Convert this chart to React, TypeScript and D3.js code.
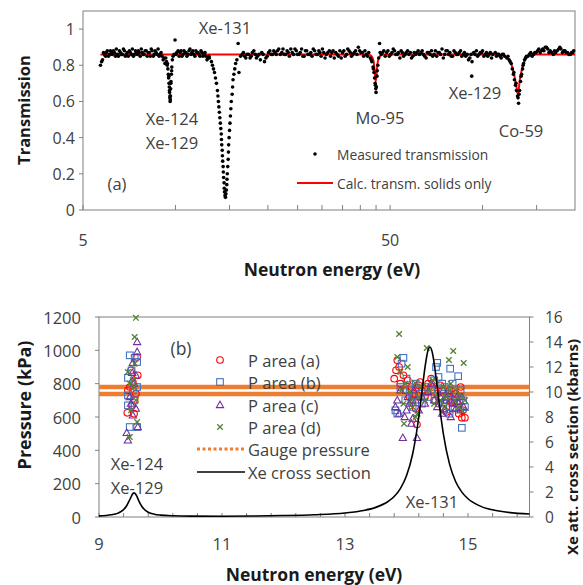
import React, { useEffect } from 'react';
import * as d3 from 'd3';

// ---------- Panel (a) data ----------
const topMajorTicks = [5, 50];
const topMinorTicks = [10, 15, 20, 25, 30, 35, 40, 45, 100, 150];
const transTicks = [0, 0.2, 0.4, 0.6, 0.8, 1];

const measSeg1: [number, number][] = [
  [5.70,0.80],[5.79,0.83],[5.87,0.86],[5.96,0.87],[6.05,0.85],[6.14,0.88],[6.23,0.86],[6.33,0.87],[6.42,0.89],[6.52,0.85],
  [6.62,0.87],[6.72,0.86],[6.82,0.88],[6.92,0.86],[7.02,0.85],[7.13,0.87],[7.24,0.89],[7.35,0.86],[7.46,0.87],[7.57,0.88],
  [7.68,0.85],[7.80,0.87],[7.91,0.86],[8.03,0.88],[8.15,0.87],[8.28,0.85],[8.40,0.88],[8.53,0.86],[8.65,0.87],[8.78,0.89],
  [8.91,0.86],[9.05,0.85],[9.18,0.84]
];
const measSeg1b: [number, number][] = [
  [5.75,0.82],[5.83,0.87],[5.92,0.85],[6.00,0.88],[6.10,0.86],[6.19,0.87],[6.28,0.88],[6.38,0.85],[6.47,0.86],[6.57,0.88],
  [6.67,0.86],[6.77,0.89],[6.87,0.85],[6.97,0.87],[7.08,0.88],[7.19,0.86],[7.30,0.85],[7.41,0.88],[7.52,0.86],[7.63,0.87],
  [7.74,0.89],[7.86,0.86],[7.97,0.88],[8.09,0.85],[8.22,0.87],[8.34,0.89],[8.47,0.85],[8.59,0.88],[8.72,0.86],[8.85,0.85],
  [8.98,0.87],[9.12,0.83],[9.24,0.81]
];
const measDipXe124: [number, number][] = [
  [9.30,0.84],[9.35,0.82],[9.40,0.80],[9.42,0.81],[9.45,0.78],[9.48,0.75],[9.50,0.73],[9.52,0.74],[9.53,0.70],[9.55,0.68],
  [9.56,0.66],[9.57,0.65],[9.59,0.62],[9.60,0.63],[9.61,0.60],[9.62,0.61],[9.63,0.63],[9.65,0.67],[9.66,0.70],[9.67,0.71],
  [9.70,0.75],[9.72,0.77],[9.73,0.79],[9.77,0.83],[9.82,0.85],[9.90,0.86],[9.97,0.94]
];
const measSeg2: [number, number][] = [
  [10.05,0.86],[10.2,0.88],[10.35,0.87],[10.5,0.85],[10.66,0.88],[10.82,0.87],[10.98,0.86],[11.15,0.89],[11.32,0.87],[11.49,0.86],
  [11.66,0.88],[11.84,0.87],[12.02,0.85],[12.2,0.87],[12.38,0.86],[12.57,0.85],[12.76,0.84]
];
const measSeg2b: [number, number][] = [
  [10.1,0.87],[10.28,0.85],[10.43,0.88],[10.58,0.86],[10.74,0.87],[10.9,0.85],[11.07,0.88],[11.24,0.86],[11.4,0.88],[11.57,0.85],
  [11.75,0.87],[11.93,0.86],[12.11,0.88],[12.29,0.85],[12.48,0.87],[12.67,0.83],[12.85,0.85]
];
const measDipXe131: [number, number][] = [
  [12.9,0.84],[13.1,0.82],[13.2,0.80],[13.3,0.78],[13.4,0.76],[13.5,0.73],[13.6,0.70],[13.7,0.66],[13.75,0.63],[13.8,0.60],
  [13.85,0.57],[13.9,0.54],[13.95,0.51],[14.0,0.48],[14.05,0.45],[14.1,0.42],[14.12,0.39],[14.15,0.36],[14.2,0.33],[14.22,0.30],
  [14.25,0.27],[14.3,0.24],[14.32,0.21],[14.35,0.18],[14.4,0.15],[14.42,0.12],[14.45,0.10],[14.5,0.08],[14.55,0.07],[14.6,0.09],
  [14.65,0.11],[14.7,0.14],[14.72,0.17],[14.75,0.20],[14.8,0.24],[14.85,0.28],[14.88,0.32],[14.9,0.36],[14.95,0.40],[15.0,0.44],
  [15.05,0.48],[15.1,0.52],[15.15,0.56],[15.2,0.60],[15.3,0.64],[15.35,0.68],[15.4,0.72],[15.5,0.75],[15.6,0.78],[15.7,0.81],
  [15.85,0.83],[16.0,0.92],[16.1,0.76],[16.3,0.85],[16.5,0.86]
];
const measSeg3: [number, number][] = [
  [16.8,0.85],[17.1,0.86],[17.5,0.84],[17.8,0.87],[18.2,0.86],[18.5,0.85],[18.9,0.83],[19.3,0.86],[19.7,0.84],[20.1,0.87],
  [20.5,0.86],[20.9,0.88],[21.3,0.86],[21.7,0.89],[22.2,0.87],[22.6,0.86],[23.1,0.88],[23.5,0.85],[24.0,0.87],[24.5,0.89],
  [25.0,0.86],[25.5,0.87],[26.0,0.85],[26.5,0.88],[27.0,0.86],[27.6,0.87],[28.1,0.89],[28.7,0.86],[29.3,0.88],[29.8,0.85],
  [30.4,0.87],[31.0,0.86],[31.7,0.88],[32.3,0.87],[32.9,0.84],[33.6,0.86],[34.3,0.88],[35.0,0.87],[35.7,0.85],[36.4,0.89],
  [37.1,0.87],[37.8,0.86],[38.6,0.88],[39.4,0.90],[40.2,0.87],[41.0,0.85],[41.8,0.86],[42.6,0.87]
];
const measSeg3b: [number, number][] = [
  [16.65,0.87],[16.95,0.84],[17.3,0.86],[17.65,0.85],[18.0,0.88],[18.35,0.84],[18.7,0.86],[19.1,0.87],[19.5,0.82],[19.9,0.85],
  [20.3,0.88],[20.7,0.86],[21.1,0.87],[21.5,0.88],[21.95,0.86],[22.4,0.89],[22.85,0.86],[23.3,0.87],[23.75,0.89],[24.25,0.86],
  [24.75,0.88],[25.25,0.86],[25.75,0.89],[26.25,0.85],[26.75,0.88],[27.3,0.86],[27.85,0.85],[28.4,0.88],[29.0,0.86],[29.55,0.87],
  [30.1,0.89],[30.7,0.84],[31.35,0.87],[32.0,0.85],[32.6,0.88],[33.25,0.87],[33.95,0.85],[34.65,0.84],[35.35,0.88],[36.05,0.86],
  [36.75,0.88],[37.45,0.85],[38.2,0.87],[39.0,0.86],[39.8,0.88],[40.6,0.87],[41.4,0.88],[42.2,0.85]
];
const measDipMo95: [number, number][] = [
  [43.1,0.84],[43.4,0.83],[43.6,0.82],[44.0,0.79],[44.1,0.78],[44.3,0.76],[44.5,0.73],[44.7,0.70],[44.8,0.69],[44.9,0.67],
  [45.0,0.65],[45.1,0.68],[45.3,0.74],[45.4,0.77],[45.6,0.80],[45.9,0.84],[46.2,0.92],[46.4,0.87]
];
const measSeg4: [number, number][] = [
  [46.8,0.86],[47.7,0.88],[48.7,0.87],[49.7,0.85],[50.7,0.87],[51.7,0.88],[52.7,0.86],[53.8,0.84],[54.8,0.87],[55.9,0.86],
  [57.0,0.88],[58.2,0.87],[59.3,0.85],[60.5,0.86],[61.7,0.88],[63.0,0.87],[64.2,0.86],[65.5,0.84],[66.8,0.87],[68.2,0.88],
  [69.5,0.86],[70.9,0.85],[72.3,0.87],[73.8,0.89],[75.3,0.86],[76.8,0.88],[78.3,0.87],[79.9,0.85],[81.5,0.87],[83.1,0.86],
  [84.8,0.88],[86.5,0.86],[88.2,0.85],[90.0,0.83],[91.8,0.86],[92.4,0.82],[92.2,0.74],[93.6,0.87],[95.5,0.88],[97.4,0.86],
  [99.3,0.87],[101,0.85],[103,0.87],[105,0.86],[107,0.84],[110,0.87],[112,0.86],[114,0.85],[116,0.86],[118,0.85]
];
const measSeg4b: [number, number][] = [
  [47.2,0.87],[48.2,0.85],[49.2,0.88],[50.2,0.86],[51.2,0.89],[52.2,0.86],[53.2,0.87],[54.3,0.88],[55.3,0.85],[56.4,0.87],
  [57.6,0.86],[58.7,0.84],[59.9,0.87],[61.1,0.87],[62.3,0.86],[63.6,0.88],[64.8,0.85],[66.1,0.87],[67.5,0.86],[68.8,0.85],
  [70.2,0.88],[71.6,0.87],[73.0,0.86],[74.5,0.84],[76.0,0.88],[77.5,0.86],[79.1,0.85],[80.7,0.88],[82.3,0.86],[84.0,0.87],
  [85.6,0.85],[87.3,0.87],[89.1,0.86],[90.9,0.84],[94.5,0.86],[96.4,0.85],[98.3,0.87],[100,0.88],[102,0.86],[104,0.85],
  [106,0.87],[108,0.86],[111,0.85],[113,0.86],[115,0.84],[117,0.86]
];
const measDipCo59: [number, number][] = [
  [120,0.84],[121,0.85],[122,0.83],[123,0.82],[124,0.81],[125,0.78],[126,0.75],[126.5,0.76],[127,0.72],[128,0.69],
  [128.5,0.70],[129,0.66],[130,0.63],[130.5,0.62],[131,0.59],[131.5,0.64],[132,0.66],[133,0.71],[133.5,0.74],[134,0.75],
  [135,0.78],[135.5,0.80],[136,0.81],[137,0.83],[138,0.84],[139,0.85]
];
const measSeg5: [number, number][] = [
  [142,0.86],[145,0.85],[148,0.87],[151,0.88],[154,0.87],[157,0.89],[160,0.90],[163,0.89],[166,0.88],[170,0.86],
  [173,0.87],[177,0.89],[180,0.89],[184,0.88],[187,0.87],[191,0.86],[195,0.87],[198,0.88]
];
const measSeg5b: [number, number][] = [
  [140.5,0.85],[143.5,0.87],[146.5,0.86],[149.5,0.87],[152.5,0.89],[155.5,0.88],[158.5,0.88],[161.5,0.90],[164.5,0.87],[168,0.87],
  [171.5,0.88],[175,0.88],[178.5,0.90],[182,0.87],[185.5,0.88],[189,0.87],[193,0.86],[196.5,0.87]
];

const calcSolids: [number, number][] = [
  [5.7,0.86],[42.5,0.86],[43.5,0.85],[44.2,0.82],[44.6,0.76],[44.9,0.71],[45.2,0.76],[45.6,0.82],[46.3,0.85],[47.5,0.86],
  [112,0.86],[118,0.85],[122,0.83],[125,0.79],[127,0.74],[129,0.68],[130,0.645],[131,0.66],[132,0.71],[134,0.77],
  [136,0.81],[139,0.84],[143,0.855],[150,0.86],[200,0.86]
];

// ---------- Panel (b) data ----------
const botXLabels = [9, 11, 13, 15];
const pressTicks = [0, 200, 400, 600, 800, 1000, 1200];
const xsTicks = [0, 2, 4, 6, 8, 10, 12, 14, 16];
const gaugeLevels = [780, 738];
const legendLabelsB = ['P area (a)', 'P area (b)', 'P area (c)', 'P area (d)', 'Gauge pressure', 'Xe cross section'];

const pAreaA: [number, number][] = [
  [9.47,760],[9.62,960],[9.63,850],[9.46,625],[9.5,780],[9.58,700],[9.54,670],[9.55,810],[9.6,740],[9.52,880],[9.57,620],
  [13.85,940],[13.83,880],[13.8,830],[13.9,800],[13.88,900],[13.95,850],[13.98,760],[14.02,820],[14.05,720],[14.08,780],
  [14.1,700],[14.12,740],[14.15,650],[14.17,555],[14.2,790],[14.22,810],[14.25,760],[14.3,720],[14.35,800],[14.4,830],
  [14.42,780],[14.45,700],[14.5,740],[14.52,680],[14.55,790],[14.58,760],[14.6,650],[14.63,700],[14.65,630],[14.68,720],
  [14.7,760],[14.72,690],[14.75,650],[14.78,700],[14.8,740],[14.83,680],[14.85,620],[14.88,780],[14.9,595],[14.95,595],[14.92,640]
];
const pAreaB: [number, number][] = [
  [9.5,970],[9.58,955],[9.62,930],[9.47,835],[9.47,670],[9.5,540],[9.62,540],[9.47,730],[9.62,780],[9.55,760],[9.57,700],[9.53,880],
  [13.82,640],[13.85,620],[13.95,955],[13.92,920],[13.9,780],[13.98,700],[14.0,830],[14.05,760],[14.08,690],[14.1,660],
  [14.12,730],[14.15,800],[14.2,740],[14.25,680],[14.3,780],[14.35,720],[14.4,760],[14.45,820],[14.5,925],[14.48,900],
  [14.52,840],[14.55,720],[14.6,680],[14.62,780],[14.65,700],[14.68,740],[14.71,890],[14.75,800],[14.78,660],[14.8,720],
  [14.84,845],[14.86,700],[14.88,760],[14.9,535],[14.92,700],[14.95,660],[14.7,620],[14.58,800]
];
const pAreaC: [number, number][] = [
  [9.62,1050],[9.62,990],[9.55,925],[9.54,865],[9.45,505],[9.47,460],[9.63,540],[9.55,610],[9.6,650],[9.5,720],[9.57,800],[9.52,680],[9.6,850],
  [13.85,700],[13.82,660],[13.9,760],[13.94,475],[13.97,600],[14.0,640],[14.02,720],[14.05,680],[14.1,590],[14.12,760],
  [14.15,700],[14.17,475],[14.2,640],[14.25,720],[14.3,680],[14.35,750],[14.4,800],[14.45,700],[14.5,660],[14.55,720],
  [14.6,760],[14.62,640],[14.65,700],[14.7,740],[14.72,600],[14.75,680],[14.8,650],[14.82,720],[14.85,690],[14.88,640],
  [14.9,720],[14.93,660],[13.88,620],[14.08,560],[14.58,620]
];
const pAreaD: [number, number][] = [
  [9.6,1195],[9.58,1080],[9.47,870],[9.62,570],[9.5,480],[9.55,820],[9.57,780],[9.6,700],[9.52,640],[9.58,920],[9.5,800],
  [13.88,1098],[13.85,960],[13.9,870],[13.92,760],[13.95,680],[13.98,800],[14.02,900],[14.05,750],[14.08,700],[14.1,660],
  [14.14,804],[14.18,620],[14.2,720],[14.25,780],[14.33,1014],[14.3,700],[14.38,760],[14.42,820],[14.45,680],[14.5,740],
  [14.55,700],[14.6,780],[14.62,660],[14.65,720],[14.69,942],[14.7,760],[14.72,800],[14.76,996],[14.78,700],[14.8,760],
  [14.85,660],[14.88,720],[14.93,924],[14.9,640],[14.95,700],[13.96,560],[14.15,600]
];

const xeCrossSection: [number, number][] = [
  [9.0,0.09],[9.2,0.18],[9.3,0.29],[9.4,0.59],[9.45,0.90],[9.5,1.38],[9.55,1.87],[9.57,1.93],[9.6,1.80],[9.65,1.27],
  [9.7,0.82],[9.75,0.55],[9.8,0.38],[9.9,0.22],[10.0,0.15],[10.2,0.095],[10.5,0.07],[11.0,0.066],[11.5,0.08],[12.0,0.115],
  [12.5,0.18],[13.0,0.32],[13.3,0.52],[13.5,0.77],[13.7,1.24],[13.8,1.64],[13.9,2.27],[14.0,3.30],[14.1,5.04],[14.2,8.0],
  [14.25,9.96],[14.3,11.95],[14.35,13.34],[14.38,13.6],[14.42,13.15],[14.45,12.3],[14.5,10.37],[14.55,8.37],[14.6,6.64],
  [14.7,4.23],[14.8,2.82],[14.9,1.99],[15.0,1.46],[15.2,0.87],[15.5,0.48],[16.0,0.24]
];

const FONT = '"Open Sans", "Noto Sans", sans-serif';
const TXT = '#404040';
const TITLE = '#1a1a1a';
const AX = '#7f7f7f';
const RED = '#ff0000';
const BLUE = '#4472c4';
const PURPLE = '#7030a0';
const GREEN = '#548235';
const ORANGE = '#ed7d31';

function Triangle({ x, y, c }: { x: number; y: number; c: string }) {
  return <path d={`M${x},${y - 3.8} L${x + 3.6},${y + 2.6} L${x - 3.6},${y + 2.6} Z`} fill="none" stroke={c} strokeWidth={1.1} />;
}
function Cross({ x, y, c }: { x: number; y: number; c: string }) {
  const s = 2.8;
  return <path d={`M${x - s},${y - s} L${x + s},${y + s} M${x - s},${y + s} L${x + s},${y - s}`} stroke={c} strokeWidth={1.3} />;
}

export default function App() {
  useEffect(() => { document.body.style.margin = '0'; }, []);

  const xT = d3.scaleLog().domain([5, 200]).range([83, 575]);
  const yT = d3.scaleLinear().domain([0, 1.1]).range([210, 11]);
  const xB = d3.scaleLinear().domain([9, 16]).range([99, 529.5]);
  const yBL = d3.scaleLinear().domain([0, 1200]).range([517, 317]);
  const yBR = d3.scaleLinear().domain([0, 16]).range([517, 317]);

  const measured = [
    ...measSeg1, ...measSeg1b, ...measDipXe124, ...measSeg2, ...measSeg2b, ...measDipXe131,
    ...measSeg3, ...measSeg3b, ...measDipMo95, ...measSeg4, ...measSeg4b, ...measDipCo59, ...measSeg5, ...measSeg5b
  ];
  const calcLine = d3.line<[number, number]>().x(d => xT(d[0])).y(d => yT(d[1])).curve(d3.curveMonotoneX)(calcSolids) || '';
  const xeLine = d3.line<[number, number]>().x(d => xB(d[0])).y(d => yBR(d[1])).curve(d3.curveMonotoneX)(xeCrossSection) || '';
  const botMinor = d3.range(9, 16.001, 0.4);
  const legendY = [360, 382, 405, 427, 449, 472];

  const tickA = 16;
  const annA = 16.5;
  const tickB = 16.5;
  const annB = 16.5;

  return (
    <svg width={583} height={585} style={{ position: 'absolute', left: 0, top: 0, display: 'block', background: '#fff' }} fontFamily={FONT}>
      {/* ===== Panel (a) ===== */}
      <rect x={83} y={11} width={492} height={199} fill="none" stroke={AX} strokeWidth={1} />
      {transTicks.map(t => (
        <g key={'yt' + t}>
          <line x1={79} x2={83} y1={yT(t)} y2={yT(t)} stroke={AX} />
          <text x={75} y={yT(t)} textAnchor="end" dominantBaseline="central" fontSize={tickA} fill={TXT}>{t}</text>
        </g>
      ))}
      {[...topMajorTicks, ...topMinorTicks].map(t => (
        <line key={'xt' + t} x1={xT(t)} x2={xT(t)} y1={210} y2={205} stroke={AX} />
      ))}
      {topMajorTicks.map(t => (
        <text key={'xl' + t} x={xT(t)} y={240} textAnchor="middle" dominantBaseline="central" fontSize={tickA} fill={TXT}>{t}</text>
      ))}
      <path d={calcLine} fill="none" stroke={RED} strokeWidth={2} />
      {measured.map((d, i) => (
        <circle key={'m' + i} cx={xT(d[0])} cy={yT(d[1])} r={1.8} fill="#000" />
      ))}
      <text x={225} y={27} textAnchor="middle" dominantBaseline="central" fontSize={annA} fill={TXT}>Xe-131</text>
      <text x={172} y={118} textAnchor="middle" dominantBaseline="central" fontSize={annA} fill={TXT}>Xe-124</text>
      <text x={172} y={142} textAnchor="middle" dominantBaseline="central" fontSize={annA} fill={TXT}>Xe-129</text>
      <text x={117} y={183} textAnchor="middle" dominantBaseline="central" fontSize={annA} fill={TXT}>(a)</text>
      <text x={380} y={117} textAnchor="middle" dominantBaseline="central" fontSize={annA} fill={TXT}>Mo-95</text>
      <text x={475} y={92} textAnchor="middle" dominantBaseline="central" fontSize={annA} fill={TXT}>Xe-129</text>
      <text x={521} y={130} textAnchor="middle" dominantBaseline="central" fontSize={annA} fill={TXT}>Co-59</text>
      <circle cx={315} cy={154} r={1.8} fill="#000" />
      <text x={337} y={154} dominantBaseline="central" fontSize={13.8} fill={TXT}>Measured transmission</text>
      <line x1={297} x2={333} y1={183} y2={183} stroke={RED} strokeWidth={2} />
      <text x={337} y={183} dominantBaseline="central" fontSize={13.8} fill={TXT}>Calc. transm. solids only</text>
      <text x={332} y={269} textAnchor="middle" dominantBaseline="central" fontSize={17.5} fontWeight="bold" fill={TITLE}>Neutron energy (eV)</text>
      <text transform="translate(23,110) rotate(-90)" textAnchor="middle" dominantBaseline="central" fontSize={16.5} fontWeight="bold" fill={TITLE}>Transmission</text>

      {/* ===== Panel (b) ===== */}
      <rect x={99} y={317} width={430.5} height={200} fill="none" stroke={AX} strokeWidth={1} />
      {pressTicks.map(t => (
        <g key={'pl' + t}>
          <line x1={95} x2={99} y1={yBL(t)} y2={yBL(t)} stroke={AX} />
          <text x={81} y={yBL(t)} textAnchor="end" dominantBaseline="central" fontSize={tickB} fill={TXT}>{t}</text>
        </g>
      ))}
      {xsTicks.map(t => (
        <g key={'xr' + t}>
          <line x1={529.5} x2={533.5} y1={yBR(t)} y2={yBR(t)} stroke={AX} />
          <text x={545} y={yBR(t)} textAnchor="start" dominantBaseline="central" fontSize={tickB - 1} fill={TXT}>{t}</text>
        </g>
      ))}
      {botMinor.map(t => (
        <line key={'bm' + t} x1={xB(t)} x2={xB(t)} y1={517} y2={513} stroke={AX} />
      ))}
      {botXLabels.map(t => (
        <text key={'bx' + t} x={xB(t)} y={543} textAnchor="middle" dominantBaseline="central" fontSize={tickB} fill={TXT}>{t}</text>
      ))}
      {gaugeLevels.map(g => (
        <line key={'g' + g} x1={99} x2={529.5} y1={yBL(g)} y2={yBL(g)} stroke={ORANGE} strokeWidth={4.5} />
      ))}
      {pAreaA.map((d, i) => <circle key={'a' + i} cx={xB(d[0])} cy={yBL(d[1])} r={3.3} fill="none" stroke={RED} strokeWidth={1.1} />)}
      {pAreaB.map((d, i) => <rect key={'b' + i} x={xB(d[0]) - 3.3} y={yBL(d[1]) - 3.3} width={6.6} height={6.6} fill="none" stroke={BLUE} strokeWidth={1.1} />)}
      {pAreaC.map((d, i) => <Triangle key={'c' + i} x={xB(d[0])} y={yBL(d[1])} c={PURPLE} />)}
      {pAreaD.map((d, i) => <Cross key={'d' + i} x={xB(d[0])} y={yBL(d[1])} c={GREEN} />)}
      <path d={xeLine} fill="none" stroke="#000" strokeWidth={1.6} />
      <text x={181} y={348} textAnchor="middle" dominantBaseline="central" fontSize={annB + 1} fill={TXT}>(b)</text>
      <text x={137} y={463} textAnchor="middle" dominantBaseline="central" fontSize={annB} fill={TXT}>Xe-124</text>
      <text x={137} y={487} textAnchor="middle" dominantBaseline="central" fontSize={annB} fill={TXT}>Xe-129</text>
      <text x={432} y={501} textAnchor="middle" dominantBaseline="central" fontSize={annB} fill={TXT}>Xe-131</text>
      {/* legend */}
      <circle cx={220} cy={legendY[0]} r={3.3} fill="none" stroke={RED} strokeWidth={1.1} />
      <rect x={216.7} y={legendY[1] - 3.3} width={6.6} height={6.6} fill="none" stroke={BLUE} strokeWidth={1.1} />
      <Triangle x={220} y={legendY[2]} c={PURPLE} />
      <Cross x={220} y={legendY[3]} c={GREEN} />
      <line x1={197} x2={245} y1={legendY[4]} y2={legendY[4]} stroke={ORANGE} strokeWidth={3} strokeDasharray="3 2.5" />
      <line x1={197} x2={245} y1={legendY[5]} y2={legendY[5]} stroke="#000" strokeWidth={1.6} />
      {legendLabelsB.map((s, i) => (
        <text key={s} x={248} y={legendY[i]} dominantBaseline="central" fontSize={16.5} fill={TXT}>{s}</text>
      ))}
      <text x={314} y={574} textAnchor="middle" dominantBaseline="central" fontSize={17.5} fontWeight="bold" fill={TITLE}>Neutron energy (eV)</text>
      <text transform="translate(24,405) rotate(-90)" textAnchor="middle" dominantBaseline="central" fontSize={18} fontWeight="bold" fill={TITLE}>Pressure (kPa)</text>
      <text transform="translate(572,447) rotate(-90)" textAnchor="middle" dominantBaseline="central" fontSize={15} fontWeight="bold" fill={TITLE}>Xe att. cross section (kbarns)</text>
    </svg>
  );
}
